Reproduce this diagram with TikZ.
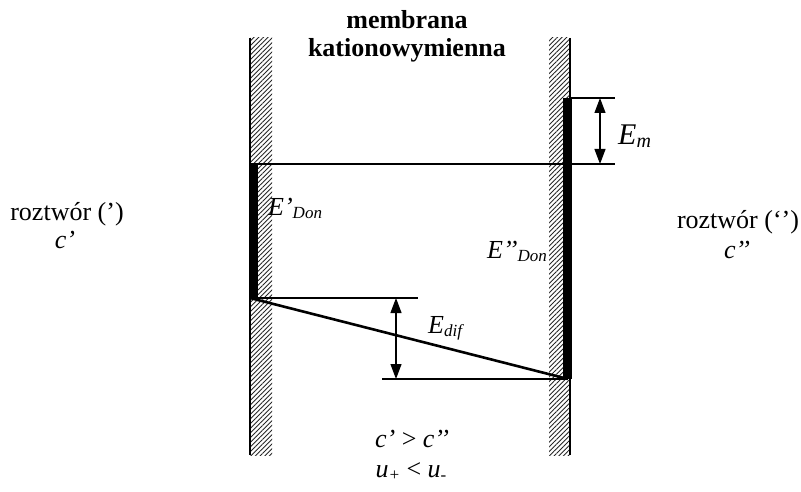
\documentclass[tikz,border=0pt]{standalone}
\usepackage{fontspec}
\setmainfont{Liberation Serif}
\usetikzlibrary{patterns.meta,arrows.meta}
\newcommand{\sbx}[1]{\raisebox{-3pt}{\fontsize{17}{17}\selectfont #1}}
\newcommand{\sbm}[1]{\raisebox{-3pt}{\fontsize{20}{20}\selectfont #1}}
\begin{document}
\begin{tikzpicture}[x=1pt,y=-1pt,
  hatch/.style={pattern={Lines[angle=45,distance=3.3pt,line width=0.9pt]},pattern color=black!85},
  wall/.style={line width=2pt},
  bar/.style={fill=black,draw=none},
  thinline/.style={line width=1.2pt},
  slope/.style={line width=2.6pt},
  dimarrow/.style={line width=1.2pt,{Triangle[length=15pt,width=11pt]}-{Triangle[length=15pt,width=11pt]}},
  lbl/.style={font=\fontsize{26}{30}\selectfont,inner sep=0pt},
  lblb/.style={font=\fontsize{26}{30}\selectfont\bfseries,inner sep=0pt,anchor=base},
]
\useasboundingbox (0,0) rectangle (801,492);
% membrane walls
\fill[hatch] (250,38) rectangle (272,455);
\fill[hatch] (549,38) rectangle (570,455);
\coordinate (LWt) at (250,38);
\coordinate (LWb) at (250,455);
\coordinate (RWt) at (570,38);
\coordinate (RWb) at (570,455);
\draw[wall] (LWt) -- (LWb);
\draw[wall] (RWt) -- (RWb);
% black bars (Donnan potentials)
\fill[bar] (250,164) rectangle (258,298);
\fill[bar] (563,98) rectangle (572,379);
% key points
\coordinate (A) at (250,164);
\coordinate (Ae) at (615,164);
\coordinate (B) at (570,98);
\coordinate (Be) at (615,98);
\coordinate (C) at (250,298);
\coordinate (Ce) at (418,298);
\coordinate (D) at (568,379);
\coordinate (Ds) at (382,379);
\coordinate (EmT) at (600,98);
\coordinate (EmB) at (600,164);
\coordinate (EdT) at (396,298);
\coordinate (EdB) at (396,379);
% level lines
\draw[thinline] (B) -- (Be);
\draw[thinline] (A) -- (Ae);
\draw[thinline] (C) -- (Ce);
\draw[thinline] (Ds) -- (D);
\draw[slope] (C) -- (D);
% dimension arrows
\draw[dimarrow] (EmT) -- (EmB);
\draw[dimarrow] (EdT) -- (EdB);
% labels
\node[lblb] (t1) at (407,29) {membrana};
\node[lblb] (t2) at (407,57) {kationowymienna};
\node[lbl,anchor=base] (rl) at (67,221) {roztwór (’)};
\node[lbl,anchor=base] (cl) at (65,248) {\itshape c’};
\node[lbl,anchor=base] (rr) at (738,229) {roztwór (‘’)};
\node[lbl,anchor=base] (cr) at (737,258) {\itshape c’’};
\node[lbl,anchor=base west] (ed1) at (268,215) {\itshape E’\sbx{Don}};
\node[lbl,anchor=base west] (ed2) at (487,258) {\itshape E’’\sbx{Don}};
\node[lbl,anchor=base west,font=\fontsize{30}{34}\selectfont] (em) at (618,145) {\itshape E\sbm{m}};
\node[lbl,anchor=base west] (edif) at (428,333) {\itshape E\sbx{dif}};
\node[lbl,anchor=base] (cc) at (412,447) {\itshape c’ \upshape> \itshape c’’};
\node[lbl,anchor=base] (uu) at (411,477) {\itshape u\sbx{+} \upshape< \itshape u\sbx{-}};
\end{tikzpicture}
\end{document}
